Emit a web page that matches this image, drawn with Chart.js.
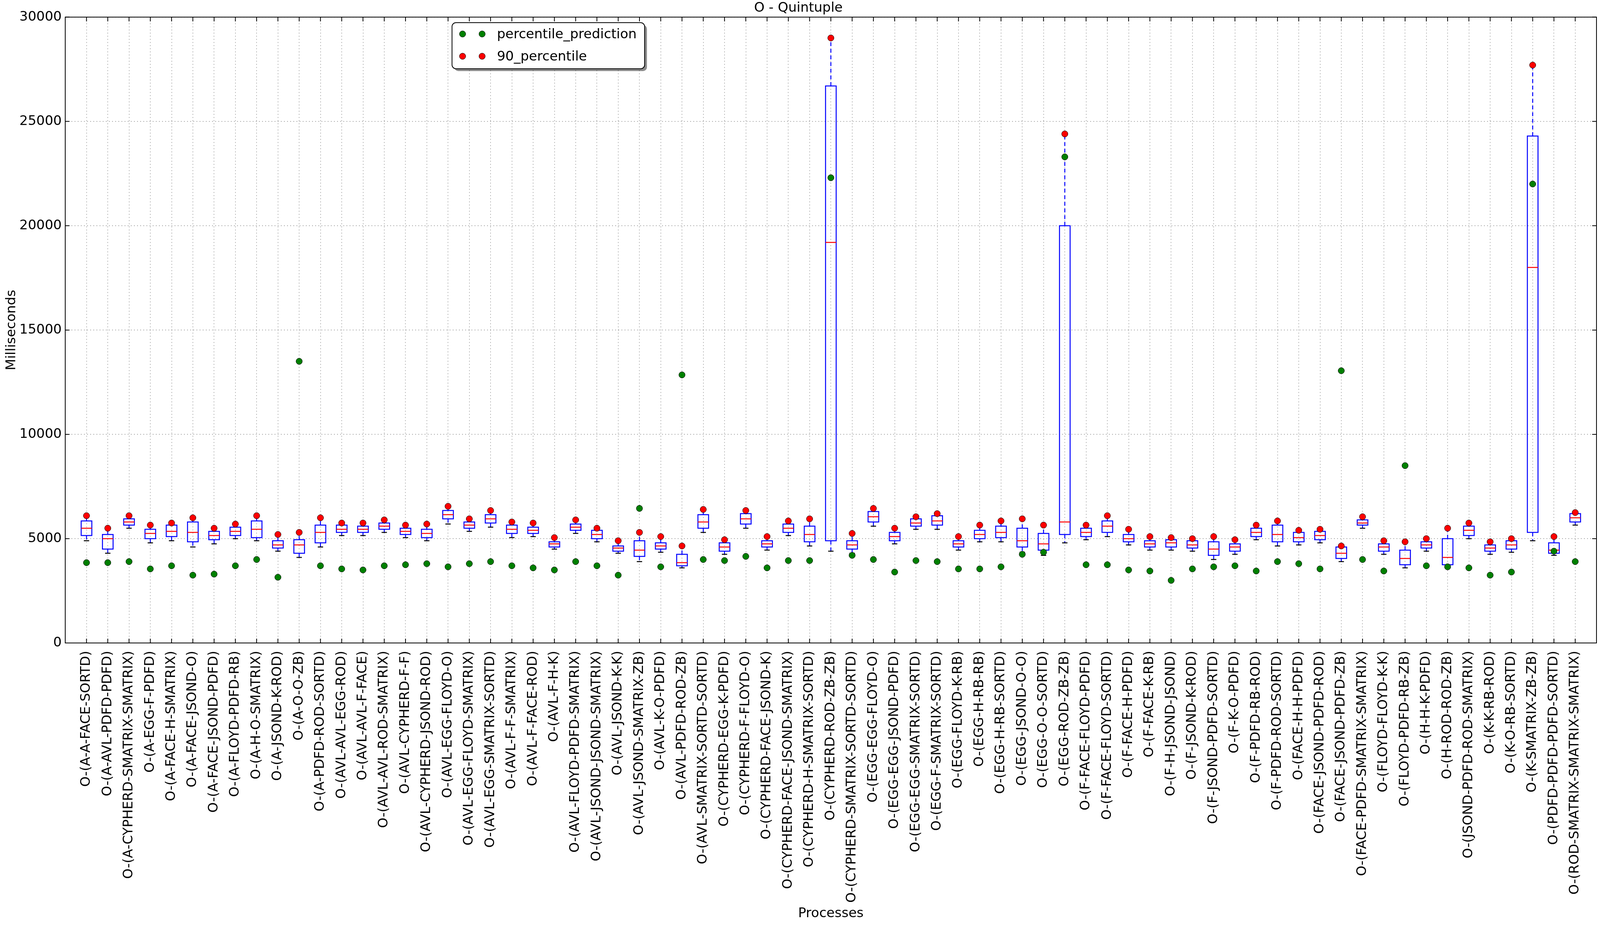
<!DOCTYPE html>
<html>
<head>
<meta charset="utf-8">
<script src="https://cdn.jsdelivr.net/npm/chart.js@4.4.1/dist/chart.umd.min.js"></script>
<style>
html, body { margin: 0; padding: 0; background: #fff; overflow: hidden; }
#wrap { width: 100vw; height: 100vh; }
canvas { display: block; }
</style>
</head>
<body>
<div id="wrap"><canvas id="chart"></canvas></div>
<script>
const names = [
    'O-(A-A-FACE-SORTD)', 'O-(A-AVL-PDFD-PDFD)', 'O-(A-CYPHERD-SMATRIX-SMATRIX)', 'O-(A-EGG-F-PDFD)',
    'O-(A-FACE-H-SMATRIX)', 'O-(A-FACE-JSOND-O)', 'O-(A-FACE-JSOND-PDFD)', 'O-(A-FLOYD-PDFD-RB)',
    'O-(A-H-O-SMATRIX)', 'O-(A-JSOND-K-ROD)', 'O-(A-O-O-ZB)', 'O-(A-PDFD-ROD-SORTD)',
    'O-(AVL-AVL-EGG-ROD)', 'O-(AVL-AVL-F-FACE)', 'O-(AVL-AVL-ROD-SMATRIX)', 'O-(AVL-CYPHERD-F-F)',
    'O-(AVL-CYPHERD-JSOND-ROD)', 'O-(AVL-EGG-FLOYD-O)', 'O-(AVL-EGG-FLOYD-SMATRIX)', 'O-(AVL-EGG-SMATRIX-SORTD)',
    'O-(AVL-F-F-SMATRIX)', 'O-(AVL-F-FACE-ROD)', 'O-(AVL-F-H-K)', 'O-(AVL-FLOYD-PDFD-SMATRIX)',
    'O-(AVL-JSOND-JSOND-SMATRIX)', 'O-(AVL-JSOND-K-K)', 'O-(AVL-JSOND-SMATRIX-ZB)', 'O-(AVL-K-O-PDFD)',
    'O-(AVL-PDFD-ROD-ZB)', 'O-(AVL-SMATRIX-SORTD-SORTD)', 'O-(CYPHERD-EGG-K-PDFD)', 'O-(CYPHERD-F-FLOYD-O)',
    'O-(CYPHERD-FACE-JSOND-K)', 'O-(CYPHERD-FACE-JSOND-SMATRIX)', 'O-(CYPHERD-H-SMATRIX-SORTD)', 'O-(CYPHERD-ROD-ZB-ZB)',
    'O-(CYPHERD-SMATRIX-SORTD-SORTD)', 'O-(EGG-EGG-FLOYD-O)', 'O-(EGG-EGG-JSOND-PDFD)', 'O-(EGG-EGG-SMATRIX-SORTD)',
    'O-(EGG-F-SMATRIX-SORTD)', 'O-(EGG-FLOYD-K-RB)', 'O-(EGG-H-RB-RB)', 'O-(EGG-H-RB-SORTD)',
    'O-(EGG-JSOND-O-O)', 'O-(EGG-O-O-SORTD)', 'O-(EGG-ROD-ZB-ZB)', 'O-(F-FACE-FLOYD-PDFD)',
    'O-(F-FACE-FLOYD-SORTD)', 'O-(F-FACE-H-PDFD)', 'O-(F-FACE-K-RB)', 'O-(F-H-JSOND-JSOND)',
    'O-(F-JSOND-K-ROD)', 'O-(F-JSOND-PDFD-SORTD)', 'O-(F-K-O-PDFD)', 'O-(F-PDFD-RB-ROD)',
    'O-(F-PDFD-ROD-SORTD)', 'O-(FACE-H-H-PDFD)', 'O-(FACE-JSOND-PDFD-ROD)', 'O-(FACE-JSOND-PDFD-ZB)',
    'O-(FACE-PDFD-SMATRIX-SMATRIX)', 'O-(FLOYD-FLOYD-K-K)', 'O-(FLOYD-PDFD-RB-ZB)', 'O-(H-H-K-PDFD)',
    'O-(H-ROD-ROD-ZB)', 'O-(JSOND-PDFD-ROD-SMATRIX)', 'O-(K-K-RB-ROD)', 'O-(K-O-RB-SORTD)',
    'O-(K-SMATRIX-ZB-ZB)', 'O-(PDFD-PDFD-PDFD-SORTD)', 'O-(ROD-SMATRIX-SMATRIX-SMATRIX)'
];

// box statistics per process (ms)
const q1 = [
    5150, 4500, 5650, 5000, 5100, 4850, 4950, 5150, 5050, 4550, 4300, 4800,
    5300, 5300, 5450, 5200, 5050, 5950, 5500, 5750, 5250, 5250, 4600, 5400,
    5000, 4400, 4150, 4500, 3700, 5500, 4400, 5700, 4600, 5300, 4850, 4900,
    4500, 5800, 4900, 5600, 5650, 4600, 5000, 5050, 4600, 4450, 5200, 5100,
    5300, 4850, 4600, 4600, 4550, 4200, 4400, 5100, 4850, 4850, 4950, 4050,
    5650, 4400, 3750, 4550, 3750, 5150, 4400, 4500, 5300, 4300, 5800
];
const median = [
    5500, 5000, 5800, 5250, 5350, 5300, 5150, 5350, 5450, 4700, 4700, 5300,
    5450, 5450, 5600, 5350, 5250, 6150, 5650, 5950, 5450, 5400, 4750, 5550,
    5200, 4550, 4450, 4650, 3850, 5800, 4600, 5950, 4750, 5500, 5200, 19200,
    4700, 6050, 5100, 5750, 5850, 4750, 5200, 5300, 4900, 4750, 5800, 5300,
    5600, 5000, 4750, 4800, 4700, 4500, 4600, 5300, 5200, 5050, 5150, 4300,
    5750, 4600, 4050, 4700, 4100, 5400, 4550, 4700, 18000, 4450, 6000
];
const q3 = [
    5850, 5200, 5950, 5450, 5650, 5800, 5350, 5550, 5850, 4900, 4950, 5650,
    5650, 5600, 5750, 5500, 5450, 6350, 5800, 6150, 5650, 5550, 4850, 5700,
    5400, 4650, 4900, 4800, 4250, 6150, 4800, 6200, 4900, 5700, 5600, 26700,
    4900, 6300, 5300, 5950, 6100, 4900, 5400, 5600, 5500, 5250, 20000, 5500,
    5850, 5200, 4900, 4950, 4900, 4850, 4750, 5500, 5650, 5300, 5350, 4600,
    5900, 4750, 4450, 4850, 5000, 5600, 4700, 4900, 24300, 4800, 6200
];
const whiskerLow = [
    4900, 4300, 5500, 4800, 4900, 4600, 4750, 5000, 4900, 4400, 4100, 4600,
    5150, 5150, 5300, 5050, 4900, 5700, 5350, 5550, 5050, 5100, 4500, 5250,
    4850, 4300, 3900, 4350, 3600, 5300, 4250, 5500, 4450, 5150, 4650, 4400,
    4300, 5600, 4750, 5450, 5450, 4450, 4850, 4850, 4350, 4200, 4800, 4950,
    5100, 4700, 4450, 4450, 4400, 4000, 4250, 4950, 4650, 4700, 4800, 3900,
    5500, 4250, 3600, 4400, 3600, 5000, 4250, 4350, 4900, 4200, 5650
];
const whiskerHigh = [
    6100, 5500, 6100, 5650, 5750, 6000, 5500, 5700, 6100, 5200, 5300, 6000,
    5750, 5750, 5900, 5650, 5700, 6550, 5950, 6350, 5800, 5750, 5050, 5900,
    5500, 4900, 5300, 5100, 4650, 6400, 4950, 6350, 5100, 5850, 5950, 29000,
    5250, 6450, 5500, 6050, 6200, 5100, 5650, 5850, 5950, 5650, 24400, 5650,
    6100, 5450, 5100, 5050, 5000, 5100, 4950, 5650, 5850, 5400, 5450, 4650,
    6050, 4900, 4850, 5000, 5500, 5750, 4850, 5000, 27700, 5100, 6250
];
const prediction = [
    3850, 3850, 3900, 3550, 3700, 3250, 3300, 3700, 4000, 3150, 13500, 3700,
    3550, 3500, 3700, 3750, 3800, 3650, 3800, 3900, 3700, 3600, 3500, 3900,
    3700, 3250, 6450, 3650, 12850, 4000, 3950, 4150, 3600, 3950, 3950, 22300,
    4200, 4000, 3400, 3950, 3900, 3550, 3550, 3650, 4250, 4350, 23300, 3750,
    3750, 3500, 3450, 3000, 3550, 3650, 3700, 3450, 3900, 3800, 3550, 13050,
    4000, 3450, 8500, 3700, 3650, 3600, 3250, 3400, 22000, 4400, 3900
];
const percentile90 = [
    6100, 5500, 6100, 5650, 5750, 6000, 5500, 5700, 6100, 5200, 5300, 6000,
    5750, 5750, 5900, 5650, 5700, 6550, 5950, 6350, 5800, 5750, 5050, 5900,
    5500, 4900, 5300, 5100, 4650, 6400, 4950, 6350, 5100, 5850, 5950, 29000,
    5250, 6450, 5500, 6050, 6200, 5100, 5650, 5850, 5950, 5650, 24400, 5650,
    6100, 5450, 5100, 5050, 5000, 5100, 4950, 5650, 5850, 5400, 5450, 4650,
    6050, 4900, 4850, 5000, 5500, 5750, 4850, 5000, 27700, 5100, 6250
];
const yTicks = [0, 5000, 10000, 15000, 20000, 25000, 30000];

// fit the figure to whatever window we get, keeping the reference proportions
const W = window.innerWidth || 5989;
const H = window.innerHeight || 2368;
const sx = W / 5989;
const sy = H / 2368;
const fs = Math.round(34 * sy);

const FONT = "'DejaVu Sans', sans-serif";
Chart.defaults.font.family = FONT;
Chart.defaults.color = '#000';

// box, whiskers, caps and medians, drawn under the points
const boxPlugin = {
    id: 'boxes',
    beforeDatasetsDraw(chart) {
        const { ctx, scales: { x, y } } = chart;
        ctx.save();
        names.forEach((n, i) => {
            const cx = x.getPixelForValue(i + 1);
            const half = x.getPixelForValue(i + 1.25) - cx;
            const cap = half / 2;
            const yq1 = y.getPixelForValue(q1[i]);
            const yq3 = y.getPixelForValue(q3[i]);
            const ymed = y.getPixelForValue(median[i]);
            const ylo = y.getPixelForValue(whiskerLow[i]);
            const yhi = y.getPixelForValue(whiskerHigh[i]);

            ctx.lineWidth = 2.5 * sy;
            ctx.strokeStyle = '#0000ff';
            ctx.setLineDash([10 * sy, 7 * sy]);
            ctx.beginPath();
            ctx.moveTo(cx, yq3); ctx.lineTo(cx, yhi);
            ctx.moveTo(cx, yq1); ctx.lineTo(cx, ylo);
            ctx.stroke();
            ctx.setLineDash([]);

            ctx.strokeRect(cx - half, yq3, half * 2, yq1 - yq3);

            ctx.strokeStyle = '#000';
            ctx.beginPath();
            ctx.moveTo(cx - cap, yhi); ctx.lineTo(cx + cap, yhi);
            ctx.moveTo(cx - cap, ylo); ctx.lineTo(cx + cap, ylo);
            ctx.stroke();

            ctx.strokeStyle = '#ff0000';
            ctx.beginPath();
            ctx.moveTo(cx - half, ymed); ctx.lineTo(cx + half, ymed);
            ctx.stroke();
        });
        ctx.restore();
    }
};

// axes frame with inward tick marks
const framePlugin = {
    id: 'frame',
    afterDatasetsDraw(chart) {
        const { ctx, chartArea: a, scales: { x, y } } = chart;
        const t = 11 * sy;
        ctx.save();
        ctx.strokeStyle = '#000';
        ctx.lineWidth = 2 * sy;
        ctx.strokeRect(a.left, a.top, a.right - a.left, a.bottom - a.top);
        ctx.beginPath();
        names.forEach((n, i) => {
            const px = x.getPixelForValue(i + 1);
            ctx.moveTo(px, a.bottom); ctx.lineTo(px, a.bottom - t);
            ctx.moveTo(px, a.top); ctx.lineTo(px, a.top + t);
        });
        yTicks.forEach(v => {
            const py = y.getPixelForValue(v);
            ctx.moveTo(a.left, py); ctx.lineTo(a.left + t, py);
            ctx.moveTo(a.right, py); ctx.lineTo(a.right - t, py);
        });
        ctx.stroke();
        ctx.restore();
    }
};

function roundRect(ctx, x, y, w, h, r) {
    ctx.beginPath();
    ctx.moveTo(x + r, y);
    ctx.arcTo(x + w, y, x + w, y + h, r);
    ctx.arcTo(x + w, y + h, x, y + h, r);
    ctx.arcTo(x, y + h, x, y, r);
    ctx.arcTo(x, y, x + w, y, r);
    ctx.closePath();
}

// matplotlib-like legend with shadow and two markers per entry
const legendPlugin = {
    id: 'mplLegend',
    afterDraw(chart) {
        const { ctx } = chart;
        const bx = 1692 * sx, by = 58 * sy, bw = 493 * sy, bh = 118 * sy;
        ctx.save();
        ctx.fillStyle = 'rgba(0,0,0,0.45)';
        roundRect(ctx, bx + 6 * sy, by + 6 * sy, bw, bh, 10 * sy);
        ctx.fill();
        ctx.fillStyle = '#fff';
        ctx.strokeStyle = '#000';
        ctx.lineWidth = 2 * sy;
        roundRect(ctx, bx, by, bw, bh, 10 * sy);
        ctx.fill();
        ctx.stroke();
        ctx.font = fs + 'px ' + FONT;
        ctx.textBaseline = 'middle';
        chart.data.datasets.forEach((ds, k) => {
            const ry = by + (29 + k * 57) * sy;
            [27, 77].forEach(off => {
                ctx.beginPath();
                ctx.arc(bx + off * sy, ry, 8 * sy, 0, Math.PI * 2);
                ctx.fillStyle = ds.backgroundColor;
                ctx.fill();
                ctx.lineWidth = 1;
                ctx.strokeStyle = '#000';
                ctx.stroke();
            });
            ctx.fillStyle = '#000';
            ctx.fillText(ds.label, bx + 115 * sy, ry + 2 * sy);
        });
        ctx.restore();
    }
};

const canvas = document.getElementById('chart');
canvas.width = W;
canvas.height = H;
const ctx = canvas.getContext('2d');
new Chart(ctx, {
    type: 'scatter',
    data: {
        datasets: [{
            label: 'percentile_prediction',
            data: names.map((n, i) => ({ x: i + 1, y: prediction[i] })),
            backgroundColor: 'green',
            borderColor: '#000',
            borderWidth: 1,
            pointRadius: 8 * sy
        }, {
            label: '90_percentile',
            data: names.map((n, i) => ({ x: i + 1, y: percentile90[i] })),
            backgroundColor: 'red',
            borderColor: '#000',
            borderWidth: 1,
            pointRadius: 8 * sy
        }]
    },
    options: {
        responsive: false,
        devicePixelRatio: 1,
        animation: false,
        layout: { padding: { left: 0, right: 12 * sx, top: 0, bottom: 0 } },
        plugins: {
            legend: { display: false },
            tooltip: { enabled: false },
            title: {
                display: true,
                text: 'O - Quintuple',
                color: '#000',
                font: { size: fs, weight: 'normal' },
                padding: { top: 1 * sy, bottom: 2 * sy }
            }
        },
        scales: {
            x: {
                type: 'linear',
                min: 0,
                max: 72,
                afterBuildTicks: s => { s.ticks = names.map((n, i) => ({ value: i + 1 })); },
                afterFit: s => { s.height = 722 * sy; },
                ticks: {
                    autoSkip: false,
                    minRotation: 90,
                    maxRotation: 90,
                    padding: 20 * sy,
                    font: { size: fs },
                    callback: v => names[v - 1] || ''
                },
                grid: { color: 'rgba(0,0,0,0.5)', lineWidth: 1.4 * sy, drawTicks: false },
                border: { display: false, dash: [2 * sy, 6 * sy] },
                title: { display: true, text: 'Processes', font: { size: fs }, padding: { top: 0, bottom: 8 * sy } }
            },
            y: {
                min: 0,
                max: 30000,
                afterBuildTicks: s => { s.ticks = yTicks.map(v => ({ value: v })); },
                afterFit: s => { s.width = 167 * sy; },
                ticks: { padding: 9 * sy, font: { size: fs }, callback: v => String(v) },
                grid: { color: 'rgba(0,0,0,0.5)', lineWidth: 1.4 * sy, drawTicks: false },
                border: { display: false, dash: [2 * sy, 6 * sy] },
                title: { display: true, text: 'Milliseconds', font: { size: fs }, padding: { top: 10 * sy, bottom: 0 } }
            }
        }
    },
    plugins: [boxPlugin, framePlugin, legendPlugin]
});
</script>
</body>
</html>
